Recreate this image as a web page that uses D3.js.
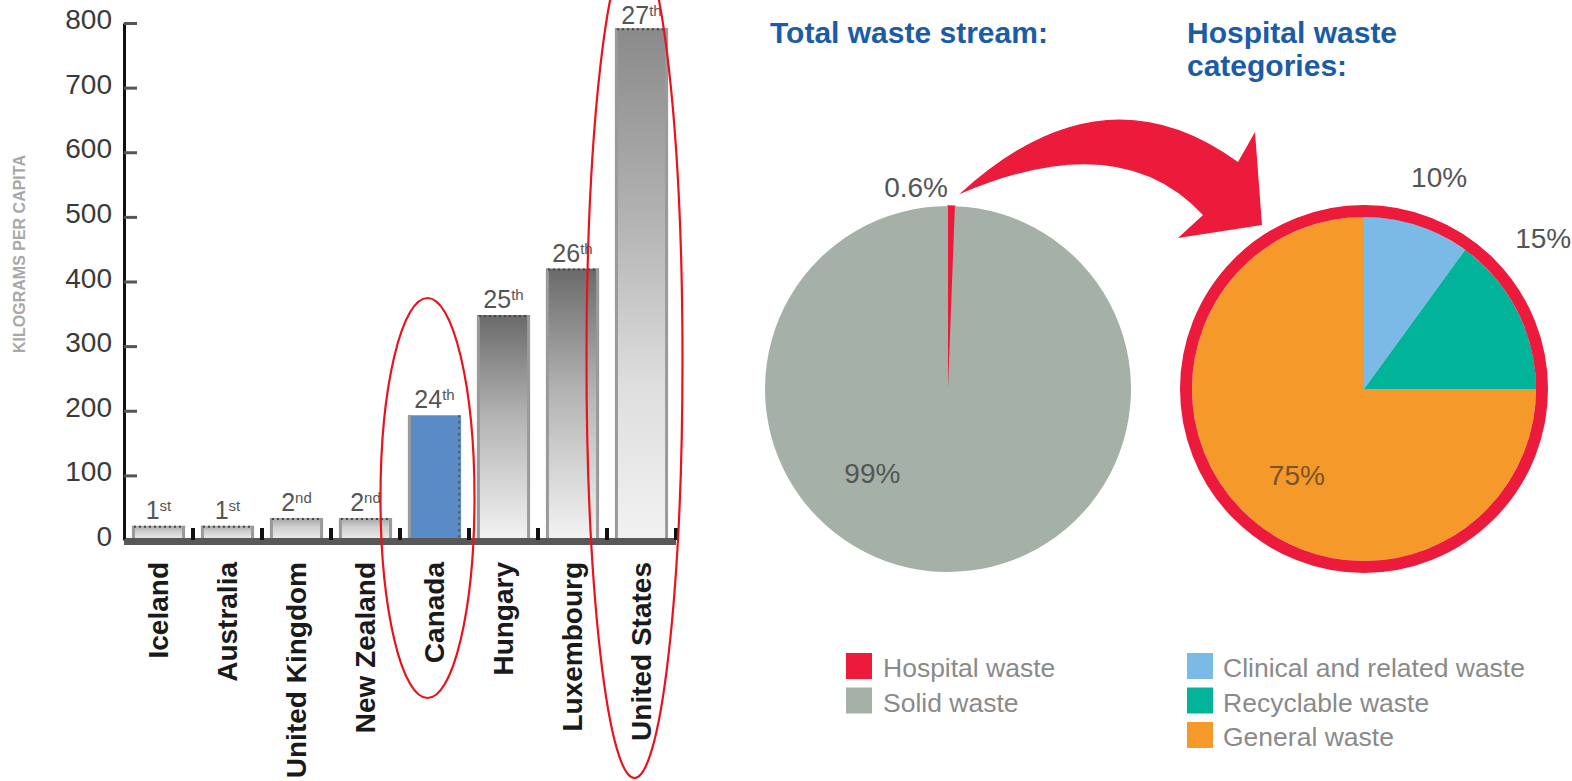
<!DOCTYPE html>
<html><head><meta charset="utf-8">
<script src="https://cdn.jsdelivr.net/npm/d3@7"></script>
<style>html,body{margin:0;padding:0;background:#fff;overflow:hidden}svg{display:block;font-family:"Liberation Sans",Arial,sans-serif}</style>
</head><body><svg id="c" width="1572" height="781"></svg>
<script>
// ---- data ----
const categories = ["Iceland","Australia","United Kingdom","New Zealand","Canada","Hungary","Luxembourg","United States"];
const values = [22,22,34,34,193,348,420,792];
const rankNum = ["1","1","2","2","24","25","26","27"];
const rankSuffix = ["st","st","nd","nd","th","th","th","th"];
const yTicks = [0,100,200,300,400,500,600,700,800];
const yTitle = "KILOGRAMS PER CAPITA";

const totalTitle = ["Total waste stream:"];
const totalCats = ["Hospital waste","Solid waste"];
const totalValues = [0.6, 99.4];
const totalLabels = ["0.6%","99%"];

const hospTitle = ["Hospital waste","categories:"];
const hospCats = ["Clinical and related waste","Recyclable waste","General waste"];
const hospValues = [10, 15, 75];
const hospLabels = ["10%","15%","75%"];

// ---- styles ----
const RED = "#ec1a3b";
const totalColors = [RED, "#a5b1a7"];
const hospColors = ["#7bbae6", "#00b399", "#f5992a"];
const TITLE = "#1b5ca7";

const svg = d3.select("#c");
const defs = svg.append("defs");
function grad(id, stops){
  const g = defs.append("linearGradient").attr("id",id).attr("x1",0).attr("y1",0).attr("x2",0).attr("y2",1);
  stops.forEach(s=>g.append("stop").attr("offset",s[0]).attr("stop-color",s[1]));
}
grad("gSmall",[[0,"#a3a3a3"],[0.4,"#cfcfcf"],[1,"#ececec"]]);
grad("gDark",[[0,"#6a6a6a"],[0.45,"#b3b3b3"],[1,"#f3f3f3"]]);
grad("gUS",[[0,"#8a8a8a"],[0.35,"#b0b0b0"],[0.7,"#dedede"],[1,"#f2f2f2"]]);

// ---- bar chart ----
const x = d3.scaleBand().domain(categories).range([124,676]).paddingInner(0.23).paddingOuter(0.115);
const y = d3.scaleLinear().domain([0,800]).range([540,23]);
const bw = x.bandwidth();

function fillFor(c,i){
  if (c==="Canada") return "#5a8bc6";
  if (c==="United States") return "url(#gUS)";
  if (values[i] > 100) return "url(#gDark)";
  return "url(#gSmall)";
}
const bars = svg.append("g");
categories.forEach((c,i)=>{
  const x0 = x(c), y0 = y(values[i]), h = y(0)-y0;
  bars.append("rect").attr("x",x0).attr("y",y0).attr("width",bw).attr("height",h).attr("fill",fillFor(c,i));
  bars.append("line").attr("x1",x0+1.5).attr("x2",x0+1.5).attr("y1",y0).attr("y2",y(0)).attr("stroke","#9a9a9a").attr("stroke-width",3);
  if (c==="Canada"){
    bars.append("line").attr("x1",x0+bw-2).attr("x2",x0+bw-2).attr("y1",y0).attr("y2",y(0)).attr("stroke","#555").attr("stroke-width",2).attr("stroke-dasharray","2,4");
  } else {
    bars.append("line").attr("x1",x0+bw-1.5).attr("x2",x0+bw-1.5).attr("y1",y0).attr("y2",y(0)).attr("stroke","#9a9a9a").attr("stroke-width",3);
    bars.append("line").attr("x1",x0+2).attr("x2",x0+bw-2).attr("y1",y0+1).attr("y2",y0+1).attr("stroke","#444").attr("stroke-width",2).attr("stroke-dasharray","2,3");
  }
  // rank label (kept inside the picture)
  const t = bars.append("text").attr("x",x0+bw/2).attr("y",Math.max(y0-7,24)).attr("text-anchor","middle")
    .attr("fill","#555").attr("font-size",25);
  t.append("tspan").text(rankNum[i]);
  t.append("tspan").attr("font-size",15).attr("dy",-8).text(rankSuffix[i]);
});
// baseline
const step = x.step();
svg.append("rect").attr("x",124).attr("y",y(0)-2).attr("width",676-124).attr("height",7).attr("fill","#585858");
categories.forEach((c,i)=>{
  if (i===0) return;
  svg.append("rect").attr("x",x(c)-step*0.115-2).attr("y",y(0)-12).attr("width",4).attr("height",12).attr("fill","#111");
});
svg.append("rect").attr("x",x(categories[7])+bw+step*0.115-2).attr("y",y(0)-12).attr("width",4).attr("height",12).attr("fill","#111");

// axis
const ax = svg.append("g").attr("transform","translate(124,0)")
  .call(d3.axisLeft(y).tickValues(yTicks).tickSize(-13).tickSizeOuter(0).tickPadding(12));
ax.select(".domain").attr("stroke","#111").attr("stroke-width",3);
ax.selectAll(".tick line").attr("stroke","#555").attr("stroke-width",3);
ax.selectAll(".tick text").attr("font-size",28).attr("fill","#3a3a3a").attr("font-family","Liberation Sans, Arial").attr("dy","0.2em");

// y title
svg.append("text").attr("transform","translate(25,254) rotate(-90)").attr("text-anchor","middle")
  .attr("font-size",16).attr("font-weight","bold").attr("fill","#a8a8a8").text(yTitle);

// country labels
categories.forEach((c)=>{
  svg.append("text").attr("transform",`translate(${x(c)+bw/2},562) rotate(-90)`)
    .attr("text-anchor","end").attr("dy","0.35em").attr("font-size",28).attr("font-weight","bold")
    .attr("fill","#1a1a1a").text(c);
});

// ellipses
const ellipses = [["Canada",498,47,200],["United States",360,48,418]];
ellipses.forEach(e=>{
  svg.append("ellipse").attr("cx",x(e[0])+bw/2-7).attr("cy",e[1]).attr("rx",e[2]).attr("ry",e[3])
    .attr("fill","none").attr("stroke","#e8131c").attr("stroke-width",2.2);
});

// ---- pies ----
const pie = d3.pie().sort(null).value(d=>d);
const p1 = {cx:948, cy:389, r:183};
const p2 = {cx:1364, cy:389, r:172};

// titles
totalTitle.forEach((t,i)=>svg.append("text").attr("x",770).attr("y",43+i*33).attr("font-size",30).attr("font-weight","bold").attr("fill",TITLE).text(t));
hospTitle.forEach((t,i)=>svg.append("text").attr("x",1187).attr("y",43+i*33).attr("font-size",30).attr("font-weight","bold").attr("fill",TITLE).text(t));

const g1 = svg.append("g").attr("transform",`translate(${p1.cx},${p1.cy})`);
const arc1 = d3.arc().innerRadius(0).outerRadius(p1.r);
g1.selectAll("path").data(pie(totalValues)).join("path").attr("d",arc1)
  .attr("fill",(d,i)=>totalColors[i])
  .attr("stroke",(d,i)=>i===0?RED:"none").attr("stroke-width",1.5);

const g2 = svg.append("g").attr("transform",`translate(${p2.cx},${p2.cy})`);
const arc2 = d3.arc().innerRadius(0).outerRadius(p2.r);
g2.selectAll("path").data(pie(hospValues)).join("path").attr("d",arc2).attr("fill",(d,i)=>hospColors[i]);
g2.append("circle").attr("r",p2.r+6).attr("fill","none").attr("stroke",RED).attr("stroke-width",12);

// pie labels (polar: degrees clockwise from top, radius)
const totalLabelPos = [[-9,204],[222,113]];
const hospLabelPos = [[19.5,225],[50,234],[218,109]];
function polar(p,a,r){const t=a*Math.PI/180;return [p.cx+r*Math.sin(t), p.cy-r*Math.cos(t)];}
totalLabels.forEach((l,i)=>{const q=polar(p1,totalLabelPos[i][0],totalLabelPos[i][1]);
  svg.append("text").attr("x",q[0]).attr("y",q[1]).attr("dy","0.35em").attr("text-anchor","middle").attr("font-size",28).attr("fill","#555").text(l);});
hospLabels.forEach((l,i)=>{const q=polar(p2,hospLabelPos[i][0],hospLabelPos[i][1]);
  svg.append("text").attr("x",q[0]).attr("y",q[1]).attr("dy","0.35em").attr("text-anchor","middle").attr("font-size",28).attr("fill",i===2?"#7a5527":"#555").text(l);});

// arrow from small slice to second pie
const tail = polar(p1, 3.3, 195);
const ap = d3.path();
ap.moveTo(tail[0],tail[1]);
ap.quadraticCurveTo(1102,63,1238,162);
ap.lineTo(1255,132);
ap.lineTo(1262,225);
ap.lineTo(1178,238);
ap.lineTo(1203,215);
ap.quadraticCurveTo(1120,125,tail[0],tail[1]);
ap.closePath();
svg.append("path").attr("d",ap.toString()).attr("fill",RED);

// ---- legends ----
const leg1 = svg.append("g");
totalCats.forEach((c,i)=>{
  leg1.append("rect").attr("x",846).attr("y",653+i*34.5).attr("width",26).attr("height",26).attr("fill",totalColors[i]);
  leg1.append("text").attr("x",883).attr("y",677+i*34.5).attr("font-size",26.5).attr("fill","#8a8a8a").text(c);
});
const leg2 = svg.append("g");
hospCats.forEach((c,i)=>{
  leg2.append("rect").attr("x",1187).attr("y",653+i*34.5).attr("width",26).attr("height",26).attr("fill",hospColors[i]);
  leg2.append("text").attr("x",1223).attr("y",677+i*34.5).attr("font-size",26.5).attr("fill","#8a8a8a").text(c);
});
</script></body></html>
